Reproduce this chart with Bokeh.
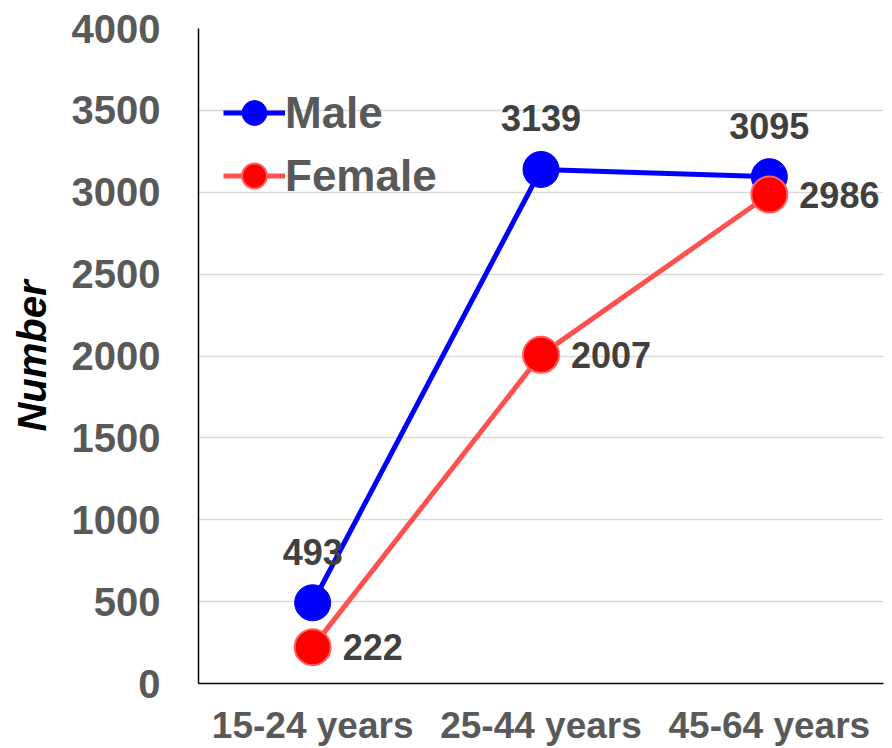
from bokeh.plotting import figure
from bokeh.models import (ColumnDataSource, Legend, LegendItem, FactorRange,
                          Range1d, FixedTicker)
from bokeh.embed import file_html
from bokeh.resources import INLINE
from bokeh.core.properties import value

# ---- data ----
categories = ["15-24 years", "25-44 years", "45-64 years"]
male = [493, 3139, 3095]
female = [222, 2007, 2986]
y_ticks = [0, 500, 1000, 1500, 2000, 2500, 3000, 3500, 4000]
y_label = "Number"

FONT = "Liberation Sans"
GREY = "#595959"
DARK = "#404040"

src = ColumnDataSource(dict(
    cat=categories,
    male=male,
    female=female,
    male_txt=[str(v) for v in male],
    female_txt=[str(v) for v in female],
))

p = figure(x_range=FactorRange(*categories), y_range=Range1d(0, 4000),
           width=892, height=748, output_backend="svg", toolbar_location=None,
           min_border_left=198, min_border_right=9, min_border_top=28,
           min_border_bottom=64)
p.outline_line_color = None
p.background_fill_color = "white"
p.border_fill_color = "white"

# grid
p.xgrid.visible = False
p.ygrid.grid_line_color = "#d9d9d9"
p.ygrid.grid_line_width = 1.5

# y axis
p.yaxis.ticker = FixedTicker(ticks=y_ticks)
p.yaxis.axis_line_color = "black"
p.yaxis.axis_line_width = 1.5
p.yaxis.major_tick_line_color = None
p.yaxis.minor_tick_line_color = None
p.yaxis.major_tick_out = 0
p.yaxis.major_tick_in = 0
p.yaxis.major_label_standoff = 38
p.yaxis.major_label_text_font = FONT
p.yaxis.major_label_text_font_style = "bold"
p.yaxis.major_label_text_font_size = "40px"
p.yaxis.major_label_text_color = GREY
p.yaxis.axis_label = y_label
p.yaxis.axis_label_text_font = FONT
p.yaxis.axis_label_text_font_style = "bold italic"
p.yaxis.axis_label_text_font_size = "40px"
p.yaxis.axis_label_text_color = "black"
p.yaxis.axis_label_standoff = 15

# x axis
p.xaxis.axis_line_color = "black"
p.xaxis.axis_line_width = 1.5
p.xaxis.major_tick_line_color = None
p.xaxis.minor_tick_line_color = None
p.xaxis.major_tick_out = 0
p.xaxis.major_tick_in = 0
p.xaxis.major_label_standoff = 21
p.xaxis.major_label_text_font = FONT
p.xaxis.major_label_text_font_style = "bold"
p.xaxis.major_label_text_font_size = "37px"
p.xaxis.major_label_text_color = GREY

# series
ml = p.line("cat", "male", source=src, line_color="#0000ff", line_width=5)
ms = p.scatter("cat", "male", source=src, size=36, fill_color="#0000ff",
               line_color="#0000ff", line_width=1)
fl = p.line("cat", "female", source=src, line_color="#ff5050", line_width=5)
fs = p.scatter("cat", "female", source=src, size=36, fill_color="#ff0000",
               line_color="#ff6060", line_width=2)

# data labels
p.text("cat", "male", text="male_txt", source=src, text_align="center",
       text_baseline="middle", y_offset=-51, text_font=value(FONT),
       text_font_style="bold", text_font_size="36px", text_color=DARK)
p.text("cat", "female", text="female_txt", source=src, text_align="left",
       text_baseline="middle", x_offset=30, y_offset=0, text_font=value(FONT),
       text_font_style="bold", text_font_size="36px", text_color=DARK)

legend = Legend(items=[LegendItem(label="Male", renderers=[ml, ms]),
                       LegendItem(label="Female", renderers=[fl, fs])],
                location=(25, 476), orientation="vertical",
                glyph_width=62, glyph_height=63, label_height=63,
                label_standoff=0, spacing=0, padding=0, margin=0,
                background_fill_alpha=0, border_line_color=None,
                label_text_font=FONT, label_text_font_style="bold",
                label_text_font_size="44px", label_text_color=GREY)
p.add_layout(legend)

open("out.html", "w").write(file_html(p, INLINE))
